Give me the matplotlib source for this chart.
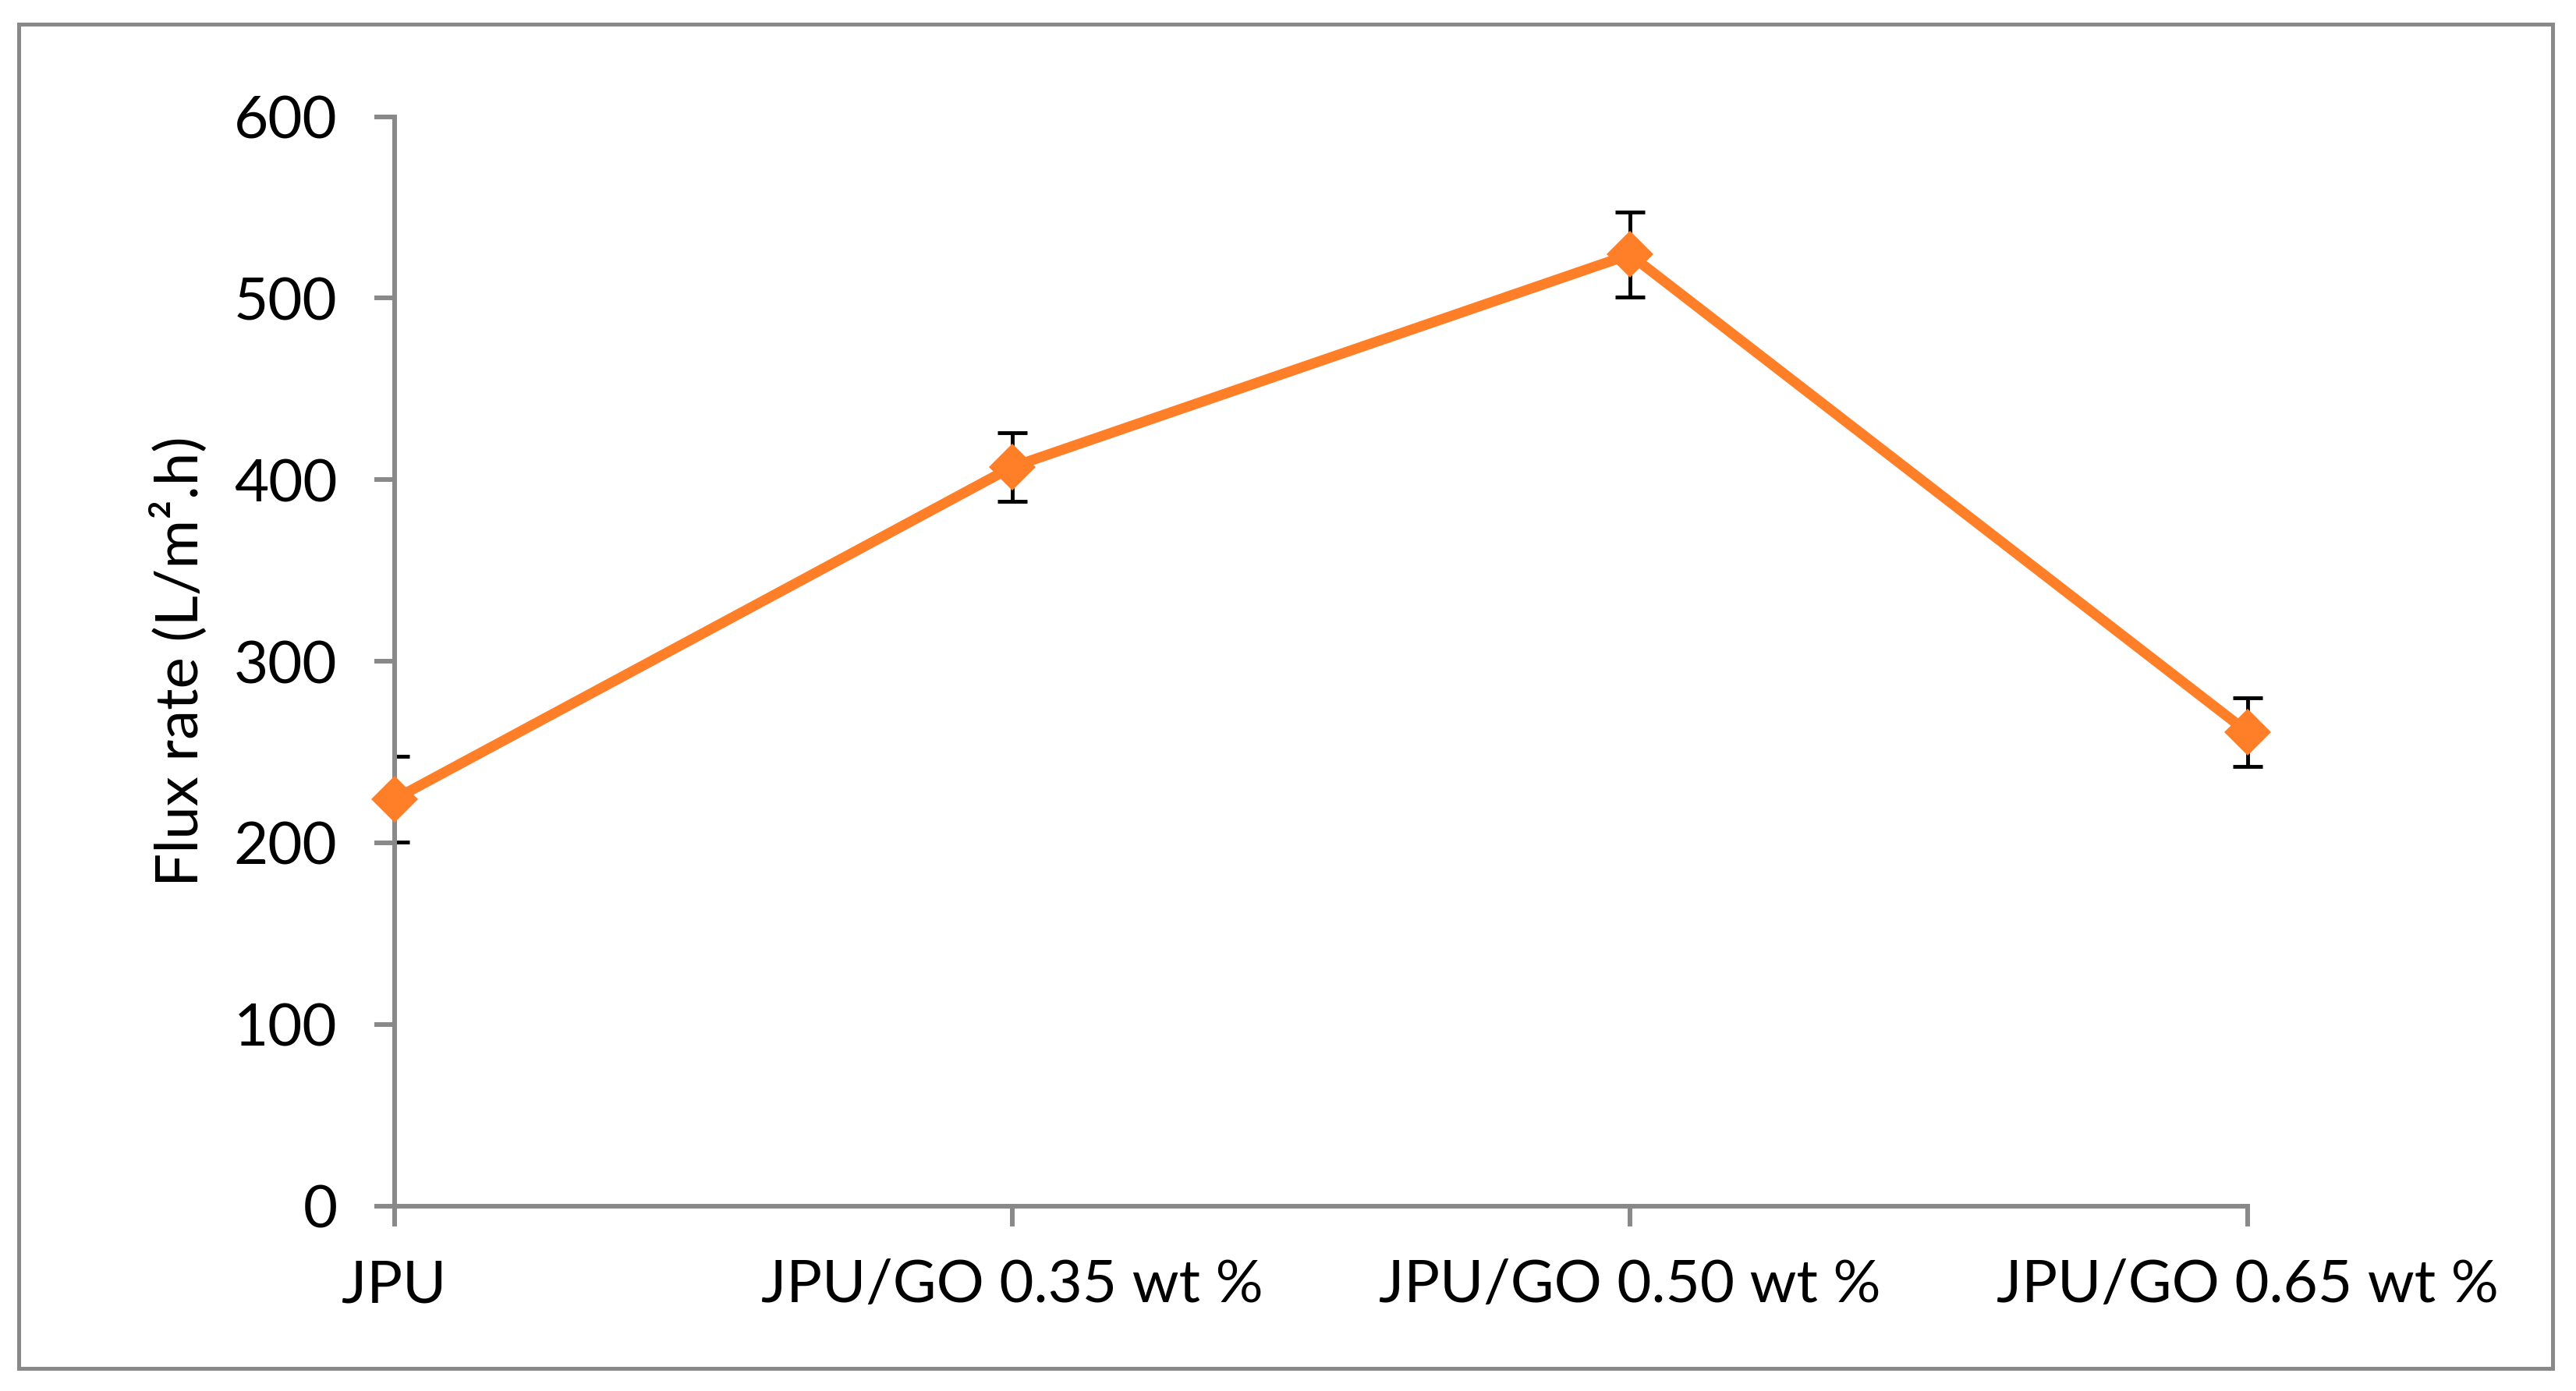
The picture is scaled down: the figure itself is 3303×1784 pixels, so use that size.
import matplotlib
matplotlib.use('Agg')
import matplotlib.pyplot as plt
from matplotlib.patches import Rectangle

CATEGORIES = ['JPU', 'JPU/GO 0.35 wt %', 'JPU/GO 0.50 wt %', 'JPU/GO 0.65 wt %']
FLUX = [224, 407, 524, 261]
FLUX_ERR = [23.5, 19, 23.5, 19]
Y_TICKS = [0, 100, 200, 300, 400, 500, 600]

GRAY = '#898989'
ORANGE = '#FE7F27'

plt.rcParams['font.family'] = ['Lato', 'DejaVu Sans']

W, H = 3303, 1784
fig = plt.figure(figsize=(W / 100, H / 100), dpi=100)
ax = fig.add_axes([505.6 / W, 1 - 1546.7 / H, (2881.9 - 505.6) / W, (1546.7 - 149.5) / H])

x = list(range(len(CATEGORIES)))
# first error bar is cut by the plot area like in the original, others are not
for i in x:
    ax.errorbar([x[i]], [FLUX[i]], yerr=[FLUX_ERR[i]], fmt='none', ecolor='black',
                elinewidth=3.5, capsize=13.5, capthick=3.5, zorder=2,
                clip_on=(i == 0))
ax.plot(x, FLUX, color=ORANGE, lw=9.5, marker='D', ms=31,
        mfc=ORANGE, mec=ORANGE, mew=0, zorder=3, clip_on=False)

ax.set_xlim(0, len(CATEGORIES) - 1)
ax.set_ylim(0, 600)
ax.set_yticks(Y_TICKS)
ax.set_xticks(x)
ax.set_xticklabels(CATEGORIES)

for side in ['top', 'right']:
    ax.spines[side].set_visible(False)
for side in ['left', 'bottom']:
    ax.spines[side].set_color(GRAY)
    ax.spines[side].set_linewidth(4.3)

ax.tick_params(axis='both', direction='out', length=18.7, width=4.3,
               color=GRAY, labelsize=55, labelcolor='black')
ax.tick_params(axis='y', pad=34)
ax.tick_params(axis='x', pad=30)

ax.set_ylabel('Flux rate (L/m\u00b2.h)', fontsize=55, labelpad=24)

fig.patches.append(Rectangle((24 / W, 1 - 1755 / H), (3273 - 24) / W, (1755 - 31) / H,
                             transform=fig.transFigure, fill=False,
                             edgecolor=GRAY, lw=3.6))

fig.savefig('out.png', dpi=100)
